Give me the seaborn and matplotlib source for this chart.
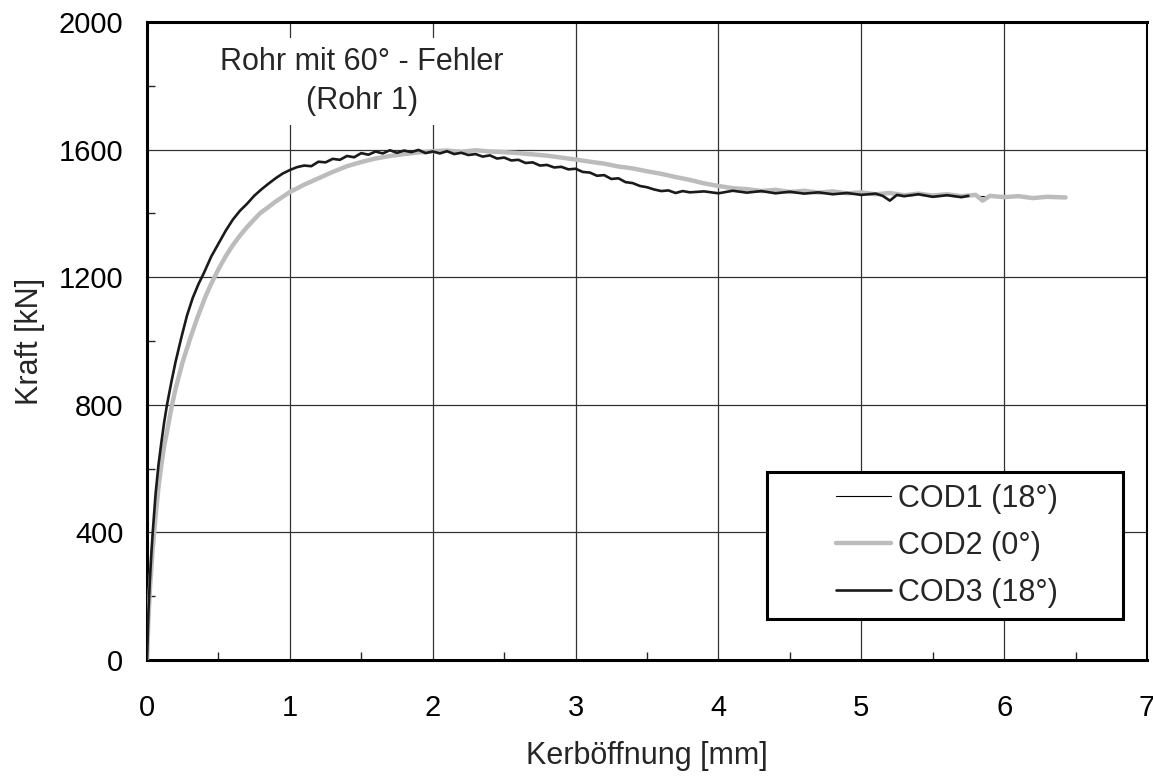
import numpy as np
import pandas as pd
import matplotlib
matplotlib.use("Agg")
import matplotlib.pyplot as plt
from matplotlib.patches import Rectangle
from matplotlib.ticker import MultipleLocator
import seaborn as sns

# ---------------- data ----------------
cod3_x = [0, 0.01, 0.02, 0.03, 0.04, 0.06, 0.08, 0.10, 0.12, 0.14, 0.17, 0.20, 0.24,
          0.28, 0.32, 0.36, 0.40, 0.45, 0.50, 0.55, 0.60, 0.65, 0.70, 0.75, 0.80,
          0.85, 0.90, 0.95, 1.00, 1.05, 1.10, 1.15, 1.20, 1.25, 1.30, 1.35, 1.40,
          1.45, 1.50, 1.55, 1.60, 1.65, 1.70, 1.75, 1.80, 1.85, 1.90, 1.95, 2.00,
          2.05, 2.10, 2.15, 2.20, 2.25, 2.30, 2.35, 2.40, 2.45, 2.50, 2.55, 2.60,
          2.65, 2.70, 2.75, 2.80, 2.85, 2.90, 2.95, 3.00, 3.05, 3.10, 3.15, 3.20,
          3.25, 3.30, 3.35, 3.40, 3.45, 3.50, 3.55, 3.60, 3.65, 3.70, 3.75, 3.80,
          3.90, 4.00, 4.10, 4.20, 4.30, 4.40, 4.50, 4.60, 4.70, 4.80, 4.90, 5.00,
          5.10, 5.15, 5.20, 5.25, 5.30, 5.40, 5.50, 5.60, 5.70, 5.75]
cod3_f = [0, 150, 250, 330, 400, 520, 610, 680, 745, 800, 870, 935, 1010,
          1080, 1135, 1178, 1215, 1265, 1305, 1345, 1380, 1408, 1430, 1455, 1475,
          1493, 1510, 1525, 1536, 1545, 1550, 1548, 1562, 1560, 1571, 1568, 1580,
          1576, 1589, 1584, 1594, 1588, 1598, 1590, 1597, 1592, 1599, 1589, 1594,
          1588, 1595, 1586, 1590, 1583, 1586, 1578, 1582, 1572, 1575, 1566, 1568,
          1558, 1560, 1550, 1552, 1544, 1546, 1538, 1540, 1530, 1528, 1518, 1520,
          1508, 1510, 1498, 1495, 1486, 1482, 1475, 1470, 1472, 1464, 1470, 1466,
          1469, 1463, 1471, 1465, 1470, 1463, 1468, 1462, 1466, 1460, 1464, 1458,
          1462, 1455, 1440, 1458, 1454, 1460, 1452, 1457, 1451, 1455]

cod2_x = [0, 0.01, 0.02, 0.04, 0.06, 0.08, 0.10, 0.12, 0.15, 0.175, 0.20, 0.25,
          0.30, 0.35, 0.41, 0.45, 0.50, 0.55, 0.60, 0.65, 0.70, 0.79, 0.85, 0.90,
          0.95, 1.00, 1.10, 1.20, 1.30, 1.40, 1.50, 1.60, 1.70, 1.80, 1.90, 2.00,
          2.10, 2.20, 2.30, 2.40, 2.50, 2.60, 2.70, 2.80, 2.90, 3.00, 3.10, 3.20,
          3.30, 3.40, 3.50, 3.60, 3.70, 3.80, 3.90, 4.00, 4.10, 4.20, 4.30, 4.40,
          4.50, 4.60, 4.70, 4.80, 4.90, 5.00, 5.10, 5.20, 5.30, 5.40, 5.50, 5.60,
          5.70, 5.80, 5.85, 5.90, 6.00, 6.10, 6.20, 6.30, 6.43]
cod2_f = [0, 130, 220, 350, 450, 540, 610, 670, 740, 800, 850, 935,
          1005, 1070, 1140, 1180, 1225, 1265, 1300, 1330, 1357, 1400, 1420, 1437,
          1452, 1467, 1490, 1510, 1530, 1548, 1561, 1572, 1580, 1586, 1591, 1595,
          1597, 1593, 1598, 1594, 1592, 1589, 1585, 1581, 1575, 1569, 1562, 1556,
          1547, 1541, 1532, 1524, 1514, 1505, 1494, 1486, 1479, 1476, 1470, 1474,
          1467, 1471, 1465, 1469, 1463, 1466, 1460, 1464, 1457, 1462, 1456, 1460,
          1454, 1458, 1440, 1455, 1451, 1454, 1448, 1452, 1450]

cod1_x = [0, 0.01, 0.02, 0.04, 0.06, 0.08, 0.10, 0.12, 0.15, 0.175, 0.20, 0.25,
          0.30, 0.35, 0.41, 0.45, 0.50, 0.55, 0.60, 0.65, 0.70, 0.79, 0.85, 0.90,
          0.95, 1.00, 1.20, 1.40, 1.60, 1.80, 2.00, 2.20, 2.40, 2.60, 2.80, 3.00,
          3.20, 3.40, 3.60, 3.80, 4.00, 4.40, 4.80, 5.20, 5.60, 6.00, 6.40]
cod1_f = [0, 130, 220, 350, 450, 540, 610, 670, 740, 800, 850, 935,
          1005, 1070, 1140, 1180, 1225, 1265, 1300, 1330, 1357, 1400, 1420, 1437,
          1452, 1467, 1510, 1548, 1572, 1586, 1595, 1596, 1594, 1589, 1581, 1569,
          1556, 1541, 1524, 1505, 1486, 1470, 1465, 1460, 1456, 1451, 1450]

series_names = ["COD1 (18°)", "COD2 (0°)", "COD3 (18°)"]
x_ticks = [0, 1, 2, 3, 4, 5, 6, 7]
y_ticks = [0, 400, 800, 1200, 1600, 2000]

# ---------------- plot ----------------
sns.set_theme(style="white")
plt.rcParams["font.family"] = ["Liberation Sans", "DejaVu Sans"]

fig = plt.figure(figsize=(11.53, 7.76), dpi=100)
ax = fig.add_axes([147 / 1153, 116 / 776, 1000 / 1153, 638 / 776])

df1 = pd.DataFrame({"x": cod1_x, "F": cod1_f})
df2 = pd.DataFrame({"x": cod2_x, "F": cod2_f})
df3 = pd.DataFrame({"x": cod3_x, "F": cod3_f})

sns.lineplot(data=df1, x="x", y="F", ax=ax, color="black", lw=0.8,
             sort=False, estimator=None, label=series_names[0], zorder=3)
sns.lineplot(data=df2, x="x", y="F", ax=ax, color="#bcbcbc", lw=3.2,
             sort=False, estimator=None, label=series_names[1], zorder=4)
sns.lineplot(data=df3, x="x", y="F", ax=ax, color="#1a1a1a", lw=1.9,
             sort=False, estimator=None, label=series_names[2], zorder=5)

ax.set_xlim(0, 7)
ax.set_ylim(0, 2000)
ax.set_xticks(x_ticks)
ax.set_yticks(y_ticks)
ax.xaxis.set_minor_locator(MultipleLocator(0.5))
ax.yaxis.set_minor_locator(MultipleLocator(200))
ax.tick_params(axis="both", which="major", direction="out", length=7, width=1,
               labelsize=21, colors="black")
ax.tick_params(axis="both", which="minor", direction="in", length=6, width=1,
               bottom=True, left=True)
ax.tick_params(axis="x", which="major", pad=17.5)
ax.tick_params(axis="y", which="major", pad=10)
ax.grid(True, which="major", color="#333333", lw=0.9)
ax.set_axisbelow(True)

for side in ["left", "bottom", "top"]:
    ax.spines[side].set_linewidth(2.2)
    ax.spines[side].set_color("black")
ax.spines["right"].set_linewidth(1.5)
ax.spines["right"].set_color("black")

ax.set_xlabel("Kerböffnung [mm]", fontsize=22, labelpad=14)
ax.set_ylabel("Kraft [kN]", fontsize=22, labelpad=10)

ax.text(0.215, 0.961, "Rohr mit 60° - Fehler\n(Rohr 1)", transform=ax.transAxes,
        ha="center", va="top", multialignment="center", linespacing=1.4,
        fontsize=22, zorder=6,
        bbox=dict(boxstyle="square,pad=0.3", facecolor="white",
                  edgecolor="none"))

# legend box
ax.add_patch(Rectangle((0.62, 0.064), 0.356, 0.231, transform=ax.transAxes,
                       facecolor="white", edgecolor="black", lw=2.2, zorder=6))
leg = ax.legend(loc="center", bbox_to_anchor=(0.7995, 0.179), frameon=False,
                fontsize=22, handlelength=1.8, handletextpad=0.23,
                labelspacing=0.55)
leg.set_zorder(7)

fig.savefig("out.png", dpi=100)
